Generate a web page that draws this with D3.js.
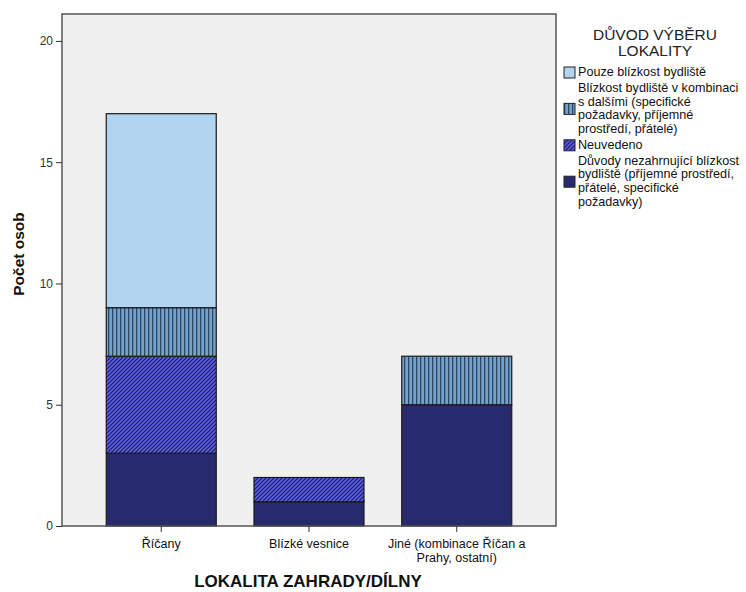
<!DOCTYPE html>
<html><head><meta charset="utf-8">
<script src="https://cdn.jsdelivr.net/npm/d3@7"></script>
<style>body{margin:0;background:#fff;}svg{display:block;font-family:"Liberation Sans",Arial,sans-serif;}</style>
</head><body>
<svg id="c" width="746" height="592"></svg>
<script>
const categories = ["Říčany", "Blízké vesnice", "Jiné (kombinace Říčan a|Prahy, ostatní)"];
const seriesNames = [
  "Důvody nezahrnující blízkost|bydliště (příjemné prostředí,|přátelé, specifické|požadavky)",
  "Neuvedeno",
  "Blízkost bydliště v kombinaci|s dalšími (specifické|požadavky, příjemné|prostředí, přátelé)",
  "Pouze blízkost bydliště"
];
const seriesNavy = [3, 1, 5];
const seriesNeuvedeno = [4, 1, 0];
const seriesKombinace = [2, 0, 2];
const seriesPouze = [8, 0, 0];
const yTicks = [0, 5, 10, 15, 20];
const legendTitle = ["DŮVOD VÝBĚRU", "LOKALITY"];
const xTitle = "LOKALITA ZAHRADY/DÍLNY";
const yTitle = "Počet osob";

const svg = d3.select("#c");
const defs = svg.append("defs");
const pv = defs.append("pattern").attr("id","pVert").attr("patternUnits","userSpaceOnUse").attr("width",4).attr("height",4);
pv.append("rect").attr("width",4).attr("height",4).attr("fill","#74a2cd");
pv.append("rect").attr("x",0).attr("width",1.3).attr("height",4).attr("fill","#2f4863");
const pd = defs.append("pattern").attr("id","pDiag").attr("patternUnits","userSpaceOnUse").attr("width",4).attr("height",4);
pd.append("rect").attr("width",4).attr("height",4).attr("fill","#5a5ef0");
pd.append("path").attr("d","M-1,1 L1,-1 M0,4 L4,0 M3,5 L5,3").attr("stroke","#1c1c55").attr("stroke-width",1.2);

const fills = ["#282a6e", "url(#pDiag)", "url(#pVert)", "#b0d3ef"];
const seriesData = [seriesNavy, seriesNeuvedeno, seriesKombinace, seriesPouze];

const L = 62, R = 556, T = 14, B = 526;
const y = d3.scaleLinear().domain([0, 21.11]).range([B, T]);
const x = d3.scaleBand().domain(categories).range([L, R]).paddingInner(0.2555).paddingOuter(0.2995);

svg.append("rect").attr("x",L).attr("y",T).attr("width",R-L).attr("height",B-T).attr("fill","#f0f0f0");

const rows = categories.map((c,i)=>{const o={cat:c}; seriesData.forEach((s,k)=>o["s"+k]=s[i]); return o;});
const stack = d3.stack().keys(seriesData.map((s,k)=>"s"+k))(rows);
stack.forEach((layer,k)=>{
  svg.append("g").selectAll("rect").data(layer.filter(d=>d[1]-d[0]>0)).join("rect")
    .attr("x",d=>x(d.data.cat)).attr("width",x.bandwidth())
    .attr("y",d=>y(d[1])).attr("height",d=>y(d[0])-y(d[1]))
    .attr("fill",fills[k]).attr("stroke","#1a1a1a").attr("stroke-width",1.2);
});

svg.append("rect").attr("x",L).attr("y",T).attr("width",R-L).attr("height",B-T).attr("fill","none").attr("stroke","#555").attr("stroke-width",1.5);

const ya = svg.append("g").attr("transform",`translate(${L},0)`).call(d3.axisLeft(y).tickValues(yTicks).tickSize(6).tickFormat(d3.format("d")));
ya.select(".domain").remove();
ya.selectAll("line").attr("stroke","#333");
ya.selectAll("text").attr("font-size",12).attr("fill","#333").attr("font-family","Liberation Sans, Arial");

const xa = svg.append("g").attr("transform",`translate(0,${B})`).call(d3.axisBottom(x).tickSize(6).tickFormat(""));
xa.select(".domain").remove();
xa.selectAll("line").attr("stroke","#333");
categories.forEach(c=>{
  const cx = x(c)+x.bandwidth()/2;
  const t = svg.append("text").attr("x",cx).attr("y",548).attr("text-anchor","middle").attr("font-size",12.5).attr("fill","#111");
  c.split("|").forEach((ln,i)=>t.append("tspan").attr("x",cx).attr("dy",i?14:0).text(ln));
});

svg.append("text").attr("x",308).attr("y",587).attr("text-anchor","middle").attr("font-size",17).attr("font-weight","bold").attr("fill","#111").text(xTitle);
svg.append("text").attr("transform","translate(24,254) rotate(-90)").attr("text-anchor","middle").attr("font-size",15.5).attr("font-weight","bold").attr("fill","#111").text(yTitle);

legendTitle.forEach((t,i)=>svg.append("text").attr("x",655).attr("y",40+i*16).attr("text-anchor","middle").attr("font-size",15.5).attr("fill","#222").text(t));
const legendOrder = [3,2,1,0];
const lh = 13.6;
let ly = 76;
legendOrder.forEach(k=>{
  const lines = seriesNames[k].split("|");
  const mid = ly + (lines.length-1)*lh/2;
  svg.append("rect").attr("x",564).attr("y",mid-9).attr("width",11).attr("height",11).attr("fill",fills[k]).attr("stroke","#222").attr("stroke-width",1);
  const t = svg.append("text").attr("x",578).attr("y",ly).attr("font-size",12.6).attr("fill","#111");
  lines.forEach((ln,i)=>t.append("tspan").attr("x",578).attr("dy",i?lh:0).text(ln));
  ly += (lines.length-1)*lh + 16;
});
</script>
</body></html>
